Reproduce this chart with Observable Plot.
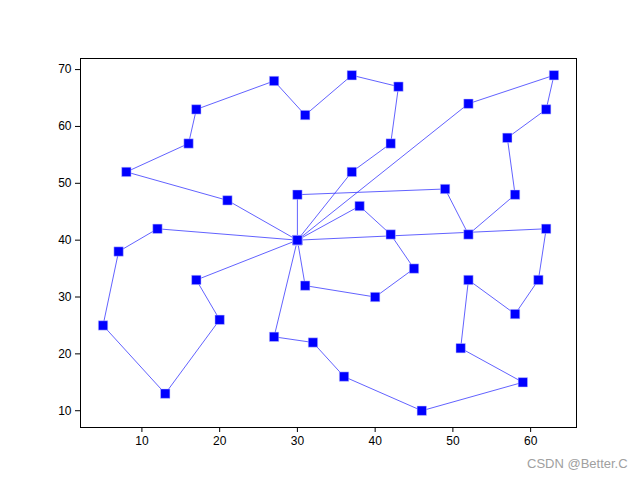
<!DOCTYPE html>
<html>
<head>
<meta charset="utf-8">
<script src="https://cdn.jsdelivr.net/npm/d3@7"></script>
<script src="https://cdn.jsdelivr.net/npm/@observablehq/plot@0.6"></script>
<style>
  html, body { margin: 0; padding: 0; background: #fff; }
  #wrap { position: relative; width: 640px; height: 480px; }
  #mark { position: absolute; left: 527px; top: 456px; font: 13px "Liberation Sans", Arial, sans-serif; color: #a0a0a0; }
</style>
</head>
<body>
<div id="wrap"><div id="chart"></div><div id="mark">CSDN @Better.C</div></div>
<script>
const depot = [30, 40];
const route1 = [[30,40],[37,52],[42,57],[43,67],[37,69],[31,62],[27,68],[17,63],[16,57],[8,52],[21,47],[30,40]];
const route2 = [[30,40],[52,64],[63,69],[62,63],[57,58],[58,48],[52,41],[49,49],[30,48],[30,40]];
const route3 = [[30,40],[38,46],[42,41],[45,35],[40,30],[31,32],[30,40]];
const route4 = [[30,40],[62,42],[61,33],[58,27],[52,33],[51,21],[59,15],[46,10],[36,16],[32,22],[27,23],[30,40]];
const route5 = [[30,40],[12,42],[7,38],[5,25],[13,13],[20,26],[17,33],[30,40]];
const routes = [route1, route2, route3, route4, route5];
const xTicks = [10, 20, 30, 40, 50, 60];
const yTicks = [10, 20, 30, 40, 50, 60, 70];

const pts = routes.flatMap((r, i) => r.map(([x, y]) => ({x, y, route: i})));

const chart = Plot.plot({
  width: 640,
  height: 480,
  marginLeft: 80,
  marginRight: 64,
  marginTop: 58,
  marginBottom: 53,
  style: {fontFamily: "'Liberation Sans', Arial, sans-serif", fontSize: "12px", color: "black", background: "white"},
  x: {domain: [2.1, 65.9]},
  y: {domain: [7.05, 71.95]},
  marks: [
    Plot.line(pts, {x: "x", y: "y", z: "route", stroke: "#3a3aff", strokeWidth: 0.8}),
    Plot.dot(pts, {x: "x", y: "y", symbol: "square", r: 5.3, fill: "blue", stroke: "#c8c8ff", strokeWidth: 0.5}),
    Plot.frame({stroke: "black", strokeWidth: 1}),
    Plot.axisX({ticks: xTicks, tickSize: 5, tickPadding: 4, label: null, fontSize: 12}),
    Plot.axisY({ticks: yTicks, tickSize: 5, tickPadding: 4, label: null, fontSize: 12})
  ]
});
document.getElementById("chart").appendChild(chart);
</script>
</body>
</html>
